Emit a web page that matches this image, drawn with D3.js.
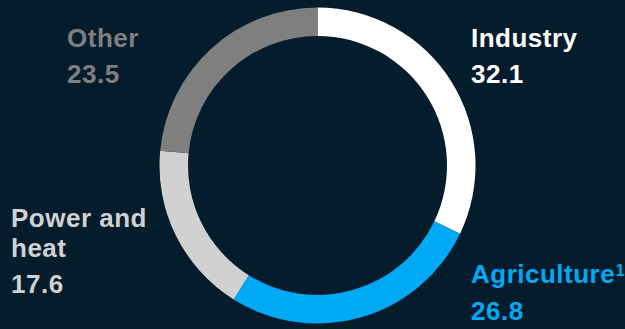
<!DOCTYPE html>
<html>
<head>
<meta charset="utf-8">
<script src="https://cdn.jsdelivr.net/npm/d3@7"></script>
<style>
  html, body { margin: 0; padding: 0; background: #041c2c; }
  svg { display: block; }
  text { font-family: "Liberation Sans", Arial, sans-serif; font-weight: bold; }
</style>
</head>
<body>
<script>
const w = 625;
const h = 329;

const categories = ["Industry", "Agriculture", "Power and heat", "Other"];
const values = [32.1, 26.8, 17.6, 23.5];
const labelLines = [["Industry"], ["Agriculture"], ["Power and", "heat"], ["Other"]];
const notes = ["", "1", "", ""];
const colors = ["#ffffff", "#00a9f4", "#d1d1d1", "#7f7f7f"];

const cx = 317.5, cy = 165.5;
const outerR = 158, innerR = 129.5;

// label anchor: x, baseline of first line
const labelPos = [[471, 46.5], [471, 283], [11, 226.5], [67, 46.5]];

const svg = d3.select("body")
  .append("svg")
  .attr("width", w)
  .attr("height", h);

const pie = d3.pie().sort(null).value(d => d);
const arc = d3.arc().innerRadius(innerR).outerRadius(outerR);

const g = svg.append("g")
  .attr("transform", "translate(" + cx + "," + cy + ")");

g.selectAll("path")
  .data(pie(values))
  .enter()
  .append("path")
  .attr("d", arc)
  .attr("fill", (d, i) => colors[i]);

categories.forEach((c, i) => {
  const [x, y] = labelPos[i];
  const lines = labelLines[i];
  const t = svg.append("text")
    .attr("x", x)
    .attr("y", y)
    .attr("fill", colors[i])
    .attr("font-size", 26)
    .attr("letter-spacing", 0.5);
  lines.forEach((ln, j) => {
    t.append("tspan")
      .attr("x", x)
      .attr("y", y + j * 30)
      .text(ln);
  });
  if (notes[i]) {
    t.append("tspan")
      .attr("font-size", 16)
      .attr("dy", -7.5)
      .attr("dx", 0.5)
      .text(notes[i]);
  }
  svg.append("text")
    .attr("x", x)
    .attr("y", y + (lines.length - 1) * 30 + 36.8)
    .attr("fill", colors[i])
    .attr("font-size", 26)
    .attr("letter-spacing", 0.5)
    .text(values[i].toFixed(1));
});
</script>
</body>
</html>
